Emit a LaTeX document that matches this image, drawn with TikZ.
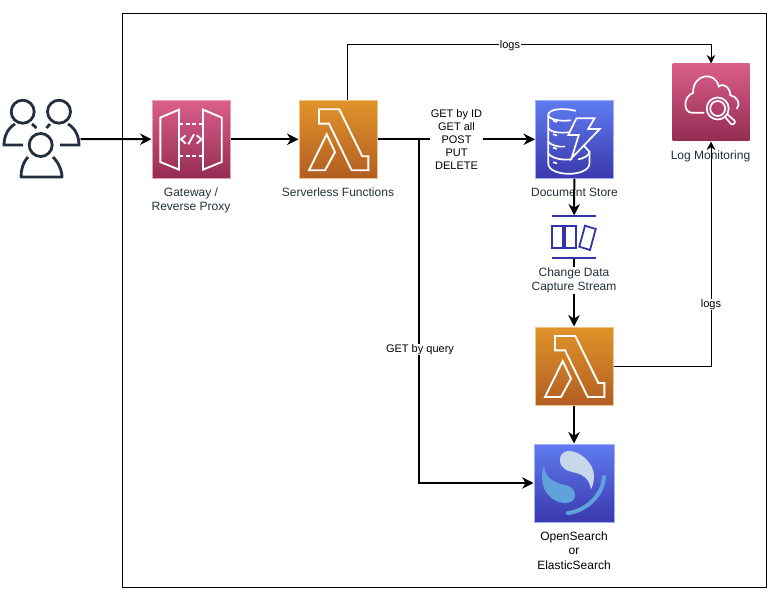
\documentclass[tikz,border=0pt]{standalone}
\usepackage{fontspec}
\setmainfont{Liberation Sans}
\usepackage{xcolor}
\usetikzlibrary{positioning,arrows.meta,calc}

\definecolor{inkdark}{HTML}{232F3E}
\definecolor{orangetop}{HTML}{E0942A}
\definecolor{orangelow}{HTML}{B25D22}
\definecolor{pinktop}{HTML}{DA5F8A}
\definecolor{pinklow}{HTML}{942C52}
\definecolor{bluetop}{HTML}{5F7CF0}
\definecolor{bluelow}{HTML}{3A38AC}
\definecolor{streamblue}{HTML}{3334A6}
\definecolor{searchlight}{HTML}{C6D8EA}
\definecolor{searchmid}{HTML}{5FA2DC}

\tikzset{
  iconbox/.style={rectangle, minimum size=78pt, inner sep=0pt, line width=1pt},
  lambdabox/.style={iconbox, top color=orangetop, bottom color=orangelow, draw=orangetop!55!white},
  pinkbox/.style={iconbox, top color=pinktop, bottom color=pinklow, draw=pinktop!60!white},
  logbox/.style={iconbox, minimum size=77pt, shading angle=-45, top color=pinktop, bottom color=pinklow},
  dbbox/.style={iconbox, top color=bluetop, bottom color=bluelow, draw=bluetop!60!white},
  glyph/.style={draw=white, line width=1.9pt, line join=miter},
  personline/.style={draw=inkdark, line width=2.8pt},
  caption/.style={font=\fontsize{12}{14.5}\selectfont, text=inkdark, align=center, inner sep=0.5pt},
  edgelabel/.style={font=\fontsize{11}{13}\selectfont, align=center, fill=white, inner sep=0.5pt},
  flow/.style={line width=2pt, -{Stealth[length=11.5pt,width=11.5pt]}},
  logline/.style={line width=1pt, -{Stealth[length=8.5pt,width=8.5pt]}},
}

\begin{document}
\begin{tikzpicture}[x=1pt, y=-1pt]
\useasboundingbox (0,0) rectangle (776,596);
% outer frame
\draw[line width=1pt] (122.5,13.5) rectangle (766,587);
% icon boxes
\node[iconbox] (users) at (41,139) {};
\node[pinkbox] (gateway) at (191,139.3) {};
\node[lambdabox] (lambda) at (338,139.3) {};
\node[dbbox] (docstore) at (574.5,139.3) {};
\node[logbox] (logmon) at (711,102.5) {};
\node[iconbox, minimum width=44pt, minimum height=42pt] (stream) at (574,237) {};
\node[lambdabox] (indexer) at (574,366) {};
\node[dbbox, minimum width=80pt] (search) at (574,483) {};
% users
\foreach \hx/\hy/\hr in {22.7/111.7/11.5,59/111.7/11.5,40.7/145/11.5} {
  \draw[personline] (\hx,\hy) circle (\hr pt);
}
\draw[personline] (15,124) .. controls (8,128) and (4,136) .. (4,145) -- (23,145);
\draw[personline] (32,124) -- (36.5,128);
\draw[personline] (68,124) .. controls (75,128) and (79,136) .. (79,145) -- (60,145);
\draw[personline] (50,124) -- (46.5,128);
\draw[personline, line join=round] (28,157) .. controls (23,162) and (21,170) .. (21,177) -- (62,177) .. controls (62,170) and (58,162) .. (53,157);
% gateway glyph
\begin{scope}[shift={(gateway.center)}, glyph]
  \draw (-30.7,-21.7) -- (-12,-29.7) -- (-12,30.3) -- (-30.7,22.7) -- cycle;
  \draw (30.7,-21.7) -- (12,-29.7) -- (12,30.3) -- (30.7,22.7) -- cycle;
  \draw[dash pattern=on 4pt off 2.5pt] (-12,-15) -- (12,-15);
  \draw[dash pattern=on 4pt off 2.5pt] (-12,16.7) -- (12,16.7);
  \draw (-5.3,-4) -- (-10,0) -- (-5.3,4.3);
  \draw (-2.7,5) -- (3,-5);
  \draw (5.7,-4) -- (10.5,0) -- (5.7,4.3);
\end{scope}
% both lambda glyphs
\foreach \n in {lambda,indexer} {
  \begin{scope}[shift={(\n.center)}, glyph]
    \draw (-19,-30) -- (1.3,-30) -- (24.3,17) -- (30.3,17) -- (30.3,31) -- (13.7,31) -- (-9,-15.7) -- (-19,-15.7) -- cycle;
    \draw (-11.3,-5) -- (-3,12.7) -- (-13,31) -- (-29,31) -- cycle;
  \end{scope}
}
% document store glyph
\begin{scope}[shift={(docstore.center)}, glyph, line width=1.7pt, line cap=round]
  \draw (1,-28.5) .. controls (-12,-32) and (-26.3,-30) .. (-26.3,-24.3) .. controls (-26.3,-20) and (-14,-17.5) .. (-4,-19);
  \draw (-26.3,-24.3) -- (-26.3,24) .. controls (-26.3,38) and (15,38) .. (15,24) -- (15,12.5) -- (10,7);
  \draw (-26.3,-11) .. controls (-24,-7) and (-14,-6) .. (-6,-7);
  \draw (-26.3,2.3) .. controls (-24,6) and (-16,8) .. (-10,7.3);
  \draw (-26.3,14) .. controls (-22,20) and (-10,21) .. (-3,20);
  \draw (4,20) .. controls (9,19) and (14,17) .. (15,12.5);
  \draw (-21,-18.5) -- (-18,-17.5);
  \draw (-21,-5) -- (-18,-4);
  \draw (-21,8.5) -- (-18,9.5);
  \draw (-21,23) -- (-18,24);
  \draw[line cap=butt] (2,-21) -- (20,-21) -- (13.7,-10.3) -- (25.3,-10.3) -- (-3,19) -- (4.3,-4.3) -- (-6.3,-4.3) -- cycle;
\end{scope}
% log monitoring glyph
\begin{scope}[shift={(logmon.center)}, glyph, line width=1.7pt, line cap=round]
  \draw (-7.3,10.3) -- (-19,10.3) .. controls (-28,10) and (-28,-6) .. (-18,-9.5) .. controls (-18,-30) and (5,-31) .. (7.7,-16) .. controls (11,-20) and (19,-16) .. (19.3,-7.3) .. controls (26,-6) and (30,1) .. (26,6);
  \draw (6.7,6) circle (11pt);
  \draw (6.7,6) circle (7.5pt);
  \draw (14.5,15) -- (20,21.5) .. controls (22,23) and (25,20) .. (23.5,18) -- (16.5,12);
\end{scope}
% stream glyph
\begin{scope}[shift={(stream.center)}, line width=1.8pt]
  \draw[streamblue] (-22,-21.3) -- (22,-21.3);
  \draw[streamblue] (-22,20.7) -- (22,20.7);
  \draw[streamblue] (-21.7,-11.3) rectangle (-11.3,10.7);
  \draw[streamblue] (-8.7,-11.3) rectangle (2,10.7);
  \draw[streamblue] (11,-11.3) -- (21.7,-8) -- (16,13) -- (5.3,9.7) -- cycle;
\end{scope}
% search glyph
\begin{scope}[shift={(search.center)}]
  \fill[searchlight] (-14,-23) .. controls (-14,-30) and (-9,-32) .. (-5,-32) .. controls (6,-32) and (20,-20) .. (20,-7) .. controls (20,-2) and (19,3) .. (17,6) .. controls (15,-4) and (10,-8) .. (2,-10) .. controls (-6,-12) and (-14,-14) .. cycle;
  \fill[searchmid] (-30,-17) .. controls (-33,-10) and (-32,-3) .. (-31,1) .. controls (-29,12) and (-19,20) .. (-9,20) .. controls (-2,20) and (1,17) .. (1,12) .. controls (1,7) and (-3,3) .. (-9,2) .. controls (-18,0) and (-29,-4) .. cycle;
  \draw[searchmid, line width=4pt, line cap=round] (30,-6) .. controls (29,12) and (12,28) .. (-6,30);
\end{scope}
% captions under the connectors
\node[caption] (docstorelabel) at (574.5,192.5) {Document Store};
\node[caption] (logmonlabel) at (710.5,156) {Log Monitoring};
% connectors
\coordinate (branch) at (419,139);
\coordinate (logstart) at (347,100);
\coordinate (logcorner) at (711,44.5);
\draw[flow] (users) -- (gateway);
\draw[flow] (gateway) -- (lambda);
\draw[flow] (lambda) -- (docstore);
\draw[flow] (branch) |- (search);
\draw[flow] (docstore) -- (stream);
\draw[flow] (stream) -- (indexer);
\draw[flow] (indexer) -- (search);
\draw[logline] (logstart) |- (logcorner) -- (logmon.north);
\draw[logline] (indexer.east) -| (logmon.south);
% labels on top
\node[caption] (gatewaylabel) at (191,200.5) {Gateway /\\Reverse Proxy};
\node[caption] (lambdalabel) at (338,192.5) {Serverless Functions};
\node[caption, fill=white] (streamlabel) at (574,280.5) {Change Data\\Capture Stream};
\node[caption, text=black, font=\fontsize{12}{14.7}\selectfont] (searchlabel) at (574,550.5) {OpenSearch\\or\\ElasticSearch};
\node[edgelabel] (crudlabel) at (456.5,140) {GET by ID\\GET all\\POST\\PUT\\DELETE};
\node[edgelabel] (querylabel) at (420,349.5) {GET by query};
\node[edgelabel] (logtoplabel) at (510,45.5) {logs};
\node[edgelabel] (logsidelabel) at (711,304.5) {logs};
\end{tikzpicture}
\end{document}
